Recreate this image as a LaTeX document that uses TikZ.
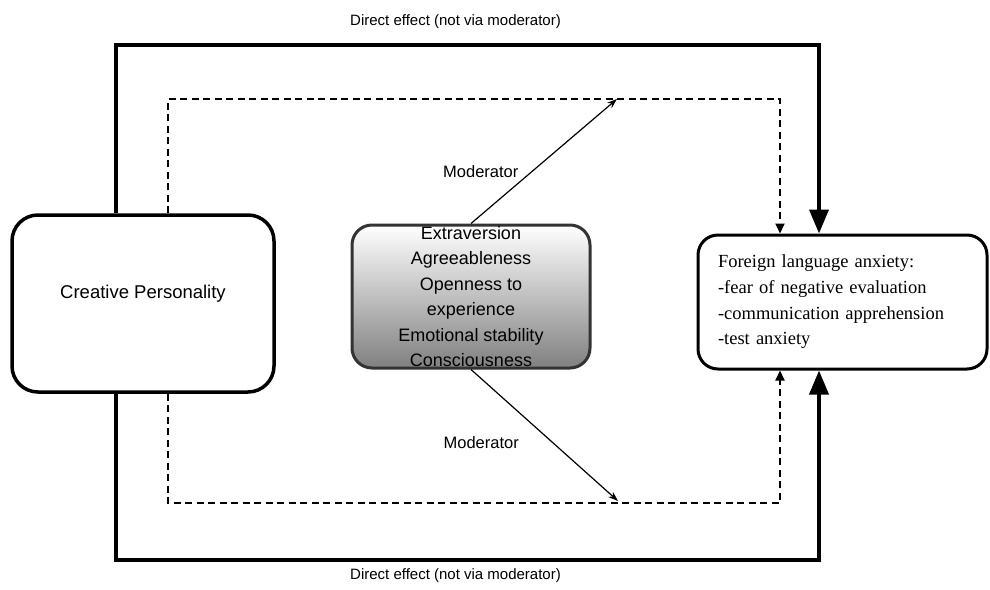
\documentclass[tikz,border=0pt]{standalone}
\usepackage{fontspec}
\setmainfont{Liberation Sans}
\newfontfamily\timesfont{Liberation Serif}
\usetikzlibrary{arrows.meta,positioning}
\definecolor{midborder}{HTML}{333333}
\definecolor{midgray}{HTML}{808080}
\tikzset{
  boxbase/.style={draw, rounded corners=22pt, line width=3.5pt},
  solidpath/.style={line width=3.8pt, -{Triangle[width=19pt,length=24pt]}},
  dashpath/.style={line width=1.8pt, dash pattern=on 7pt off 4.5pt, -{Triangle[width=9pt,length=10pt]}},
  modarrow/.style={line width=1.2pt, -{Stealth[width=7pt,length=10pt]}},
  titletext/.style={font=\fontsize{15}{17}\selectfont},
  modtext/.style={font=\fontsize{16.5}{19}\selectfont}
}
\begin{document}
\begin{tikzpicture}[x=1pt,y=-1pt]
\useasboundingbox (0,0) rectangle (990,589);
\fill[white] (0,0) rectangle (990,589);

% boxes
\node[boxbase, rounded corners=26pt, minimum width=262pt, minimum height=177pt,
      font=\fontsize{18.5}{22}\selectfont, text depth=24pt] (cp) at (143,303.5) {Creative Personality};

\node[draw=midborder, line width=3pt, rounded corners=20pt, top color=white, bottom color=midgray,
      minimum width=238pt, minimum height=143pt, align=center, inner sep=0pt,
      font=\fontsize{18}{25.4}\selectfont] (mid) at (471,296.5)
  {Extraversion\\Agreeableness\\Openness to\\experience\\Emotional stability\\Consciousness};

\node[boxbase, rounded corners=20pt, line width=3pt, minimum height=134pt, text width=249pt,
      inner xsep=20pt, align=left, font=\timesfont\fontsize{18.5}{25.7}\selectfont] (fla) at (842.5,302)
  {Foreign language anxiety:\\-fear of negative evaluation\\-communication apprehension\\-test anxiety};

% corner coordinates
\coordinate (tl) at (116,45);
\coordinate (tr) at (819,45);
\coordinate (bl) at (116,560);
\coordinate (br) at (819,560);
\coordinate (dtl) at (168,99);
\coordinate (dtr) at (780,99);
\coordinate (dbl) at (168,503);
\coordinate (dbr) at (780,503);
\coordinate (m1) at (617,99);
\coordinate (m2) at (618,501);

% direct effect paths
\draw[solidpath] (cp.north -| tl) -- (tl) -- (tr) -- (fla.north -| tr);
\draw[solidpath] (cp.south -| bl) -- (bl) -- (br) -- (fla.south -| br);

% moderated paths
\draw[dashpath] (cp.north -| dtl) -- (dtl) -- (dtr) -- (fla.north -| dtr);
\draw[dashpath] (cp.south -| dbl) -- (dbl) -- (dbr) -- (fla.south -| dbr);

% moderator arrows
\draw[modarrow] (mid.north) -- node[modtext, pos=0.42, left=10pt] {Moderator} (m1);
\draw[modarrow] (mid.south) -- node[modtext, pos=0.556, left=30pt] {Moderator} (m2);

% titles
\node[titletext] (toptitle) at (455.5,22) {Direct effect (not via moderator)};
\node[titletext] (bottitle) at (455.5,576) {Direct effect (not via moderator)};
\end{tikzpicture}
\end{document}
